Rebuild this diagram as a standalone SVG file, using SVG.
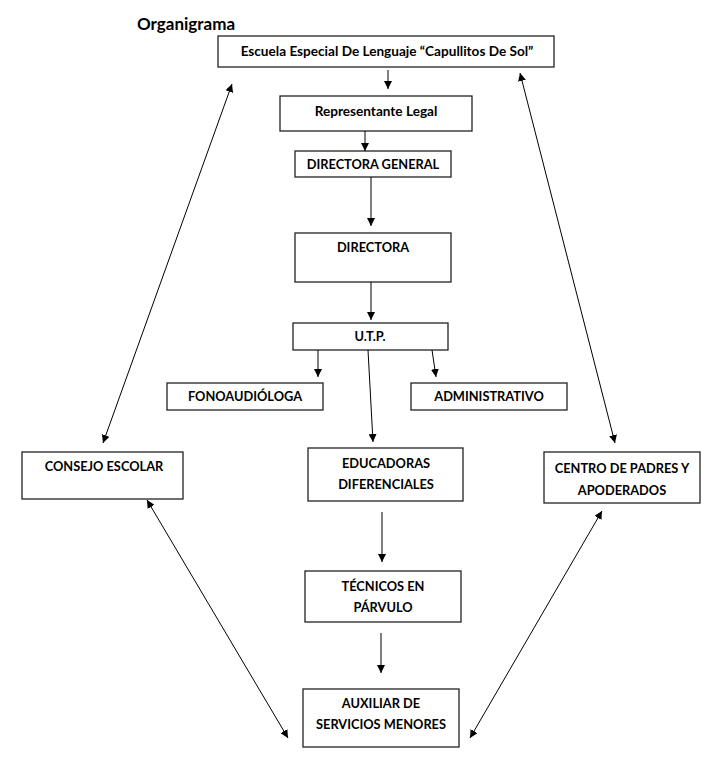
<svg xmlns="http://www.w3.org/2000/svg" width="720" height="760" viewBox="0 0 720 760">
<defs>
<marker id="ah" viewBox="0 0 10 10" refX="10" refY="5" markerWidth="8" markerHeight="8" markerUnits="userSpaceOnUse" orient="auto-start-reverse">
<path d="M0,0 L10,5 L0,10 z" fill="#000"/>
</marker>
<style>
.box{fill:#fff;stroke:#222;stroke-width:1.3}
.t{font-family:Lato,"Open Sans","Liberation Sans",sans-serif;font-weight:bold;font-size:12.8px;fill:#000;text-anchor:middle}
.m{font-size:13.6px}
.c{fill:none;stroke:#000;stroke-width:1}
</style>
</defs>
<rect width="720" height="760" fill="#fff"/>
<text x="137" y="30" style="font-family:Lato,'Open Sans','Liberation Sans',sans-serif;font-weight:bold;font-size:17px;fill:#000">Organigrama</text>

<g id="escuela"><rect class="box" x="218" y="36" width="336" height="31"/><text class="t m" x="387" y="56">Escuela Especial De Lenguaje “Capullitos De Sol”</text></g>
<g id="representante"><rect class="box" x="280" y="96" width="192" height="35"/><text class="t m" x="376" y="116">Representante Legal</text></g>
<g id="directora-general"><rect class="box" x="295" y="151" width="156" height="26"/><text class="t" x="373" y="169">DIRECTORA GENERAL</text></g>
<g id="directora"><rect class="box" x="295" y="233" width="156" height="49"/><text class="t" x="373" y="252">DIRECTORA</text></g>
<g id="utp"><rect class="box" x="293" y="323" width="155" height="27"/><text class="t" x="370" y="341">U.T.P.</text></g>
<g id="fono"><rect class="box" x="167" y="383" width="156" height="27"/><text class="t" x="245" y="401">FONOAUDIÓLOGA</text></g>
<g id="admin"><rect class="box" x="411" y="383" width="156" height="27"/><text class="t" x="489" y="401">ADMINISTRATIVO</text></g>
<g id="consejo"><rect class="box" x="22" y="452" width="161" height="47"/><text class="t" x="104" y="471">CONSEJO ESCOLAR</text></g>
<g id="educadoras"><rect class="box" x="308" y="448" width="155" height="53"/><text class="t" x="386" y="468">EDUCADORAS</text><text class="t" x="386" y="489">DIFERENCIALES</text></g>
<g id="centro"><rect class="box" x="544" y="452" width="156" height="51"/><text class="t" x="622" y="473">CENTRO DE PADRES Y</text><text class="t" x="622" y="495">APODERADOS</text></g>
<g id="tecnicos"><rect class="box" x="305" y="571" width="156" height="51"/><text class="t" x="383" y="591">TÉCNICOS EN</text><text class="t" x="383" y="612">PÁRVULO</text></g>
<g id="auxiliar"><rect class="box" x="303" y="689" width="156" height="58"/><text class="t" x="381" y="708">AUXILIAR DE</text><text class="t" x="381" y="729">SERVICIOS MENORES</text></g>

<g id="connectors">
<line class="c" x1="388" y1="70" x2="388" y2="89" marker-end="url(#ah)"/>
<line class="c" x1="365" y1="131" x2="365" y2="151" marker-end="url(#ah)"/>
<line class="c" x1="371" y1="177" x2="371" y2="226" marker-end="url(#ah)"/>
<line class="c" x1="371" y1="282" x2="371" y2="320" marker-end="url(#ah)"/>
<line class="c" x1="318" y1="350" x2="318" y2="377" marker-end="url(#ah)"/>
<line class="c" x1="432" y1="350" x2="436" y2="377" marker-end="url(#ah)"/>
<line class="c" x1="368" y1="350" x2="373" y2="442" marker-end="url(#ah)"/>
<line class="c" x1="382" y1="512" x2="382" y2="562" marker-end="url(#ah)"/>
<line class="c" x1="381" y1="633" x2="381" y2="673" marker-end="url(#ah)"/>
<line class="c" x1="232" y1="84" x2="103" y2="443" marker-start="url(#ah)" marker-end="url(#ah)"/>
<line class="c" x1="520" y1="73" x2="615" y2="443" marker-start="url(#ah)" marker-end="url(#ah)"/>
<line class="c" x1="147" y1="500" x2="288" y2="738" marker-start="url(#ah)" marker-end="url(#ah)"/>
<line class="c" x1="602" y1="511" x2="470" y2="738" marker-start="url(#ah)" marker-end="url(#ah)"/>
</g>
</svg>
